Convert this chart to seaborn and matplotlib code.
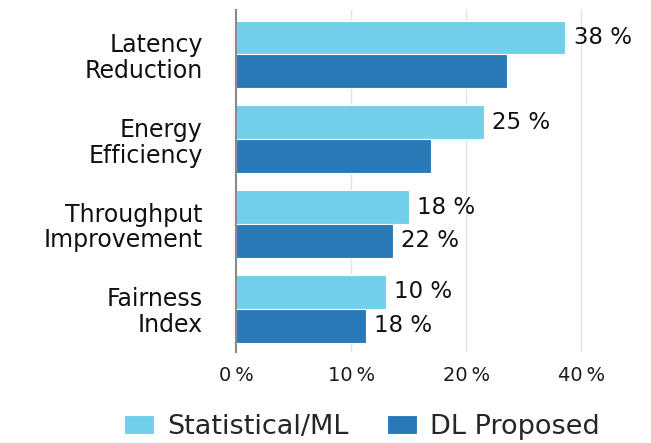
import matplotlib
matplotlib.use("Agg")
import matplotlib.pyplot as plt
import seaborn as sns
import pandas as pd

categories = ["Latency\nReduction", "Energy\nEfficiency", "Throughput\nImprovement", "Fairness\nIndex"]
series_names = ["Statistical/ML", "DL Proposed"]
# bar lengths as drawn (axis units where gridlines are at 0, 10, 20, 30)
stat_values = [28.6, 21.5, 15.0, 13.0]
dl_values = [23.5, 16.9, 13.6, 11.3]
stat_labels = ["38 %", "25 %", "18 %", "10 %"]
dl_labels = ["", "", "22 %", "18 %"]
tick_positions = [0, 10, 20, 30]
tick_labels = ["0\u2009%", "10\u2009%", "20\u2009%", "40\u2009%"]

colors = ["#72CFEA", "#2879B6"]

rows = []
for c, s, d in zip(categories, stat_values, dl_values):
    rows.append({"cat": c, "series": series_names[0], "val": s})
    rows.append({"cat": c, "series": series_names[1], "val": d})
df = pd.DataFrame(rows)

sns.set_theme(style="white")
FONT = ["DejaVu Sans"]
plt.rcParams["font.family"] = FONT

fig = plt.figure(figsize=(6.51, 4.43), dpi=100)
ax = fig.add_axes([236 / 651, 91 / 443, 380 / 651, 342 / 443])

sns.barplot(data=df, y="cat", x="val", hue="series", orient="h",
            palette=colors, saturation=1, width=0.8, dodge=True, ax=ax,
            edgecolor="white", linewidth=0.8, legend=True)

ax.set_xlim(0, 33)
ax.set_ylim(3.51, -0.525)
ax.set_xticks(tick_positions)
ax.set_xticklabels(tick_labels, fontsize=14, color="#1a1a1a")
ax.tick_params(axis="x", length=0, pad=10)
ax.tick_params(axis="y", length=0, pad=24)
for lab in ax.get_yticklabels():
    lab.set_fontsize(17)
    lab.set_color("#111111")
    lab.set_horizontalalignment("right")
    lab.set_linespacing(1.1)
ax.set_xlabel("")
ax.set_ylabel("")
ax.grid(axis="x", color="#e3e3e3", linewidth=1)
ax.grid(axis="y", visible=False)
ax.set_axisbelow(True)
for sp in ["top", "right", "bottom"]:
    ax.spines[sp].set_visible(False)
ax.spines["left"].set_color("#8a8a8a")
ax.spines["left"].set_linewidth(1.5)

for cont, labels in zip(ax.containers, [stat_labels, dl_labels]):
    ax.bar_label(cont, labels=labels, padding=6, fontsize=16.5, color="#111111", clip_on=False)

handles, labs = ax.get_legend_handles_labels()
ax.legend_.remove()
fig.legend(handles, labs, loc="center", bbox_to_anchor=(362 / 651, 16 / 443), ncol=2,
           frameon=False, fontsize=19.5, handlelength=1.1, handleheight=0.75,
           handletextpad=0.5, columnspacing=1.4)

fig.savefig("out.png", dpi=100)
